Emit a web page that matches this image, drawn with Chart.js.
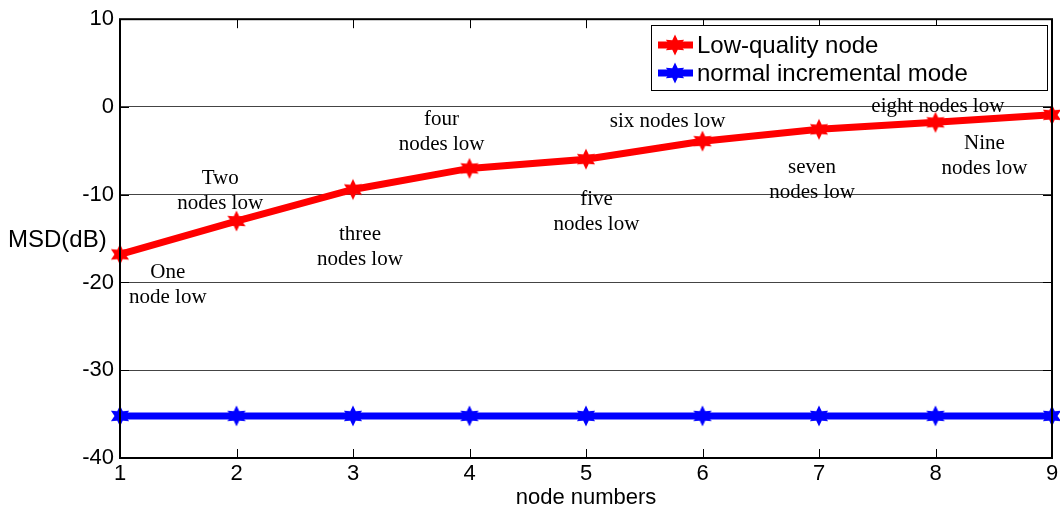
<!DOCTYPE html>
<html>
<head>
<meta charset="utf-8">
<script src="https://cdn.jsdelivr.net/npm/chart.js@4"></script>
<style>
  html, body { margin: 0; padding: 0; background: #fff; }
  #wrap { width: 1060px; height: 515px; }
</style>
</head>
<body>
<div id="wrap"><canvas id="chart" width="1060" height="515"></canvas></div>
<script>
// data
const nodeNumbers = [1, 2, 3, 4, 5, 6, 7, 8, 9];
const lowQuality = [-16.8, -13.0, -9.4, -7.0, -5.95, -3.9, -2.55, -1.75, -0.9];
const normalMode = [-35.2, -35.2, -35.2, -35.2, -35.2, -35.2, -35.2, -35.2, -35.2];
const yTicks = [10, 0, -10, -20, -30, -40];

// text notes beside the points: [x, y, lines]
const notes = [
  [1.41, -18.9, ["One", "node low"]],
  [1.86, -8.1, ["Two", "nodes low"]],
  [3.06, -14.55, ["three", "nodes low"]],
  [3.76, -1.4, ["four", "nodes low"]],
  [5.09, -10.5, ["five", "nodes low"]],
  [5.70, -1.65, ["six nodes low"]],
  [6.94, -6.95, ["seven", "nodes low"]],
  [8.02, 0.05, ["eight nodes low"]],
  [8.42, -4.15, ["Nine", "nodes low"]]
];

const sans = "'Liberation Sans', Arial, sans-serif";
const serif = "'Liberation Serif', 'Times New Roman', serif";

// six pointed star like the matlab hexagram marker
function hexagram(color) {
  const c = document.createElement("canvas");
  c.width = 22; c.height = 24;
  const g = c.getContext("2d");
  const cx = 11, cy = 12, ro = 10.5, ri = 5.5;
  g.beginPath();
  for (let i = 0; i < 12; i++) {
    const a = -Math.PI / 2 + i * Math.PI / 6;
    const r = i % 2 === 0 ? ro : ri;
    const px = cx + r * Math.cos(a), py = cy + r * Math.sin(a);
    if (i === 0) g.moveTo(px, py); else g.lineTo(px, py);
  }
  g.closePath();
  g.fillStyle = color;
  g.fill();
  return c;
}
const redStar = hexagram("#ff0000");
const blueStar = hexagram("#0000ff");

const frame = {
  id: "frame",
  afterDraw(chart) {
    const { ctx, chartArea: a, scales } = chart;
    const xs = scales.x, ys = scales.y;
    ctx.save();
    // inward ticks
    ctx.strokeStyle = "#000";
    ctx.lineWidth = 1;
    nodeNumbers.forEach(n => {
      const px = Math.round(xs.getPixelForValue(n)) + 0.5;
      ctx.beginPath();
      ctx.moveTo(px, a.bottom); ctx.lineTo(px, a.bottom - 9);
      ctx.moveTo(px, a.top); ctx.lineTo(px, a.top + 9);
      ctx.stroke();
    });
    yTicks.forEach(t => {
      const py = Math.round(ys.getPixelForValue(t)) + 0.5;
      ctx.beginPath();
      ctx.moveTo(a.left, py); ctx.lineTo(a.left + 9, py);
      ctx.moveTo(a.right, py); ctx.lineTo(a.right - 9, py);
      ctx.stroke();
    });
    // box
    ctx.lineWidth = 2;
    ctx.strokeRect(a.left, a.top, a.right - a.left, a.bottom - a.top);

    // notes
    ctx.fillStyle = "#000";
    ctx.font = "21px " + serif;
    ctx.textAlign = "center";
    ctx.textBaseline = "middle";
    notes.forEach(([nx, ny, lines]) => {
      const px = xs.getPixelForValue(nx);
      const py = ys.getPixelForValue(ny);
      lines.forEach((s, i) => ctx.fillText(s, px, py + i * 25));
    });

    // y label
    ctx.font = "24px " + sans;
    ctx.textAlign = "left";
    ctx.fillText("MSD(dB)", 8, 240);

    // legend
    const lx = 651, ly = 25, lw = 396, lh = 65;
    ctx.fillStyle = "#fff";
    ctx.fillRect(lx, ly, lw, lh);
    ctx.lineWidth = 1;
    ctx.strokeStyle = "#000";
    ctx.strokeRect(lx + 0.5, ly + 0.5, lw, lh);
    const items = [["Low-quality node", "#ff0000", redStar], ["normal incremental mode", "#0000ff", blueStar]];
    items.forEach(([label, col, img], i) => {
      const y = ly + 20 + i * 28;
      ctx.strokeStyle = col;
      ctx.lineWidth = 7;
      ctx.beginPath();
      ctx.moveTo(658, y); ctx.lineTo(693, y);
      ctx.stroke();
      ctx.drawImage(img, 675 - 11, y - 12);
      ctx.fillStyle = "#000";
      ctx.font = "24px " + sans;
      ctx.fillText(label, 697, y + 1);
    });
    ctx.restore();
  }
};

new Chart(document.getElementById("chart"), {
  type: "line",
  data: {
    datasets: [
      {
        label: "Low-quality node",
        data: nodeNumbers.map((n, i) => ({ x: n, y: lowQuality[i] })),
        borderColor: "#ff0000",
        borderWidth: 7,
        pointStyle: redStar,
        pointRadius: 10,
        clip: false,
        tension: 0
      },
      {
        label: "normal incremental mode",
        data: nodeNumbers.map((n, i) => ({ x: n, y: normalMode[i] })),
        borderColor: "#0000ff",
        borderWidth: 7,
        pointStyle: blueStar,
        pointRadius: 10,
        clip: false,
        tension: 0
      }
    ]
  },
  options: {
    responsive: false,
    animation: false,
    layout: { autoPadding: false, padding: { top: 17, right: 8, left: 0, bottom: 0 } },
    plugins: { legend: { display: false }, tooltip: { enabled: false } },
    scales: {
      x: {
        type: "linear",
        min: 1, max: 9,
        afterFit(s) { s.height = 57; },
        grid: { display: false },
        border: { display: false },
        ticks: {
          stepSize: 1,
          color: "#000",
          font: { family: sans, size: 22 },
          padding: -5
        },
        title: {
          display: true,
          text: "node numbers",
          color: "#000",
          font: { family: sans, size: 22 },
          padding: { top: 0, bottom: 4 }
        }
      },
      y: {
        min: -40, max: 10,
        afterFit(s) { s.width = 120; },
        afterBuildTicks(s) { s.ticks = yTicks.map(v => ({ value: v })); },
        grid: { color: "#444", lineWidth: 1, drawTicks: false },
        border: { display: false },
        ticks: {
          color: "#000",
          font: { family: sans, size: 22 },
          padding: 6
        }
      }
    }
  },
  plugins: [frame]
});
</script>
</body>
</html>
